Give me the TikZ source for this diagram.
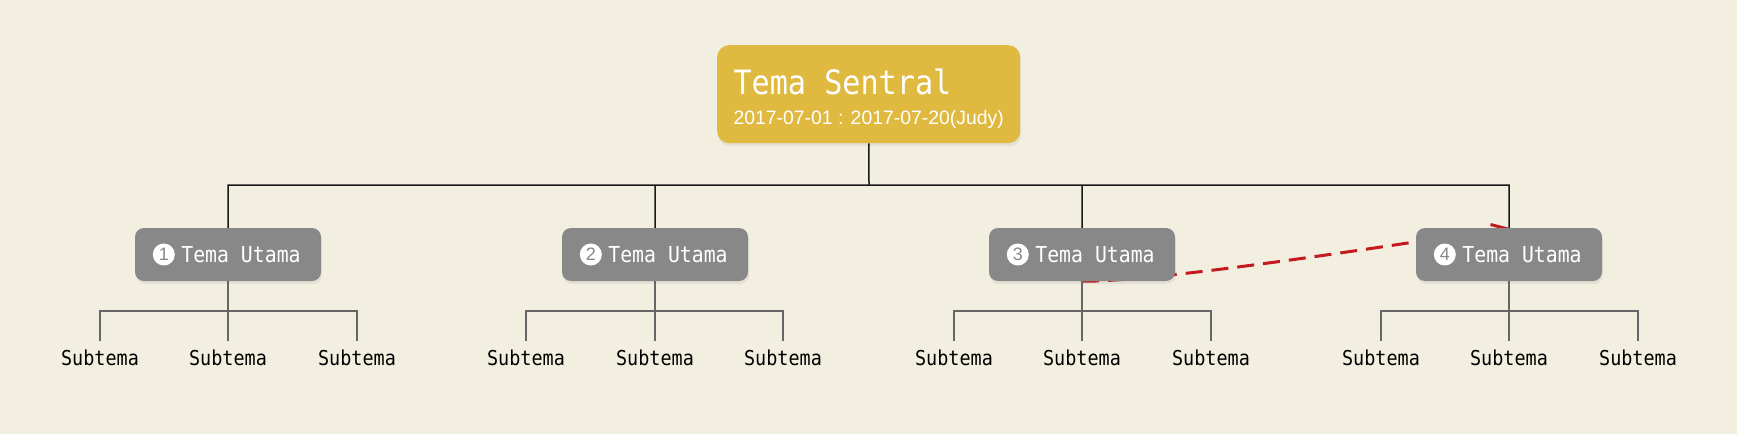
\documentclass[tikz,border=0pt]{standalone}
\usepackage{fontspec}
\setmainfont{Liberation Sans}
\newfontfamily\monofont[FakeStretch=0.9]{DejaVu Sans Mono}
\usepackage{tikz}
\usetikzlibrary{arrows.meta,positioning,shadows}
\pgfdeclarelayer{back}
\pgfsetlayers{back,main}
\definecolor{paper}{HTML}{F2EEE0}
\definecolor{centrefill}{HTML}{E0B940}
\definecolor{topicgrey}{HTML}{888888}
\definecolor{linegrey}{HTML}{666666}
\definecolor{relred}{HTML}{C41A1F}

\begin{document}
\begin{tikzpicture}[x=1pt,y=-1pt,
		centre/.style = {fill=centrefill,rounded corners=12pt,minimum width=303pt,minimum height=98pt,inner sep=0pt,align=left,text=white,font=\fontsize{19.4}{30}\selectfont,drop shadow={opacity=0.12,shadow xshift=1pt,shadow yshift=-3pt}},
		topic/.style = {fill=topicgrey,rounded corners=9pt,minimum width=186pt,minimum height=53pt,inner sep=0pt,text=white,font=\monofont\fontsize{22}{22}\selectfont,drop shadow={opacity=0.12,shadow xshift=1pt,shadow yshift=-3pt}},
		badge/.style = {circle,fill=white,inner sep=0pt,minimum size=22pt,text=topicgrey,font=\fontsize{18}{18}\selectfont},
		subtopic/.style = {inner sep=0pt,outer ysep=9pt,font=\monofont\fontsize{20.5}{20.5}\selectfont},
		trunk/.style = {draw=black!90,line width=1.5pt},
		twig/.style = {draw=linegrey,line width=1.8pt},
		relation/.style = {draw=relred,line width=3pt,dash pattern=on 17pt off 9pt,-{Straight Barb[length=14pt,width=12pt]}}]
		\begin{pgfonlayer}{back}
			\fill [paper] (0,0) rectangle (1737,434);
		\end{pgfonlayer}
		\useasboundingbox (0,0) rectangle (1737,434);
		% central topic
		\node (c) at (868.7,94.2) [centre] {\rule{0pt}{34pt}{\monofont\fontsize{33.5}{36}\selectfont Tema Sentral}\\
			2017-07-01 : 2017-07-20(Judy)};
		% main topics
		\node (t1) at (228,254.5) [topic] {\hspace{26pt}Tema Utama};
		\node (t2) at (655,254.5) [topic] {\hspace{26pt}Tema Utama};
		\node (t3) at (1082,254.5) [topic] {\hspace{26pt}Tema Utama};
		\node (t4) at (1509,254.5) [topic] {\hspace{26pt}Tema Utama};
		\node (b1) at ([xshift=29pt]t1.west) [badge] {1};
		\node (b2) at ([xshift=29pt]t2.west) [badge] {2};
		\node (b3) at ([xshift=29pt]t3.west) [badge] {3};
		\node (b4) at ([xshift=29pt]t4.west) [badge] {4};
		% subtopics
		\node (s11) at (100,358) [subtopic] {Subtema};
		\node (s12) at (228,358) [subtopic] {Subtema};
		\node (s13) at (357,358) [subtopic] {Subtema};
		\node (s21) at (526,358) [subtopic] {Subtema};
		\node (s22) at (655,358) [subtopic] {Subtema};
		\node (s23) at (783,358) [subtopic] {Subtema};
		\node (s31) at (954,358) [subtopic] {Subtema};
		\node (s32) at (1082,358) [subtopic] {Subtema};
		\node (s33) at (1211,358) [subtopic] {Subtema};
		\node (s41) at (1381,358) [subtopic] {Subtema};
		\node (s42) at (1509,358) [subtopic] {Subtema};
		\node (s43) at (1638,358) [subtopic] {Subtema};
		% joints
		\coordinate (hub) at (869,185);
		\coordinate (j1) at (228,311);
		\coordinate (j2) at (655,311);
		\coordinate (j3) at (1082,311);
		\coordinate (j4) at (1509,311);
		\draw [trunk] (c) -- (hub) (hub) -| (t1) (hub) -| (t2) (hub) -| (t3) (hub) -| (t4);
		\draw [twig] (t1) -- (s12) (j1) -| (s11) (j1) -| (s13);
		\draw [twig] (t2) -- (s22) (j2) -| (s21) (j2) -| (s23);
		\draw [twig] (t3) -- (s32) (j3) -| (s31) (j3) -| (s33);
		\draw [twig] (t4) -- (s42) (j4) -| (s41) (j4) -| (s43);
		% relation behind the boxes
		\begin{pgfonlayer}{back}
			\draw [relation] (t3.south) .. controls (1160,282) and (1400,244) .. (t4.north);
		\end{pgfonlayer}
	\end{tikzpicture}
\end{document}
